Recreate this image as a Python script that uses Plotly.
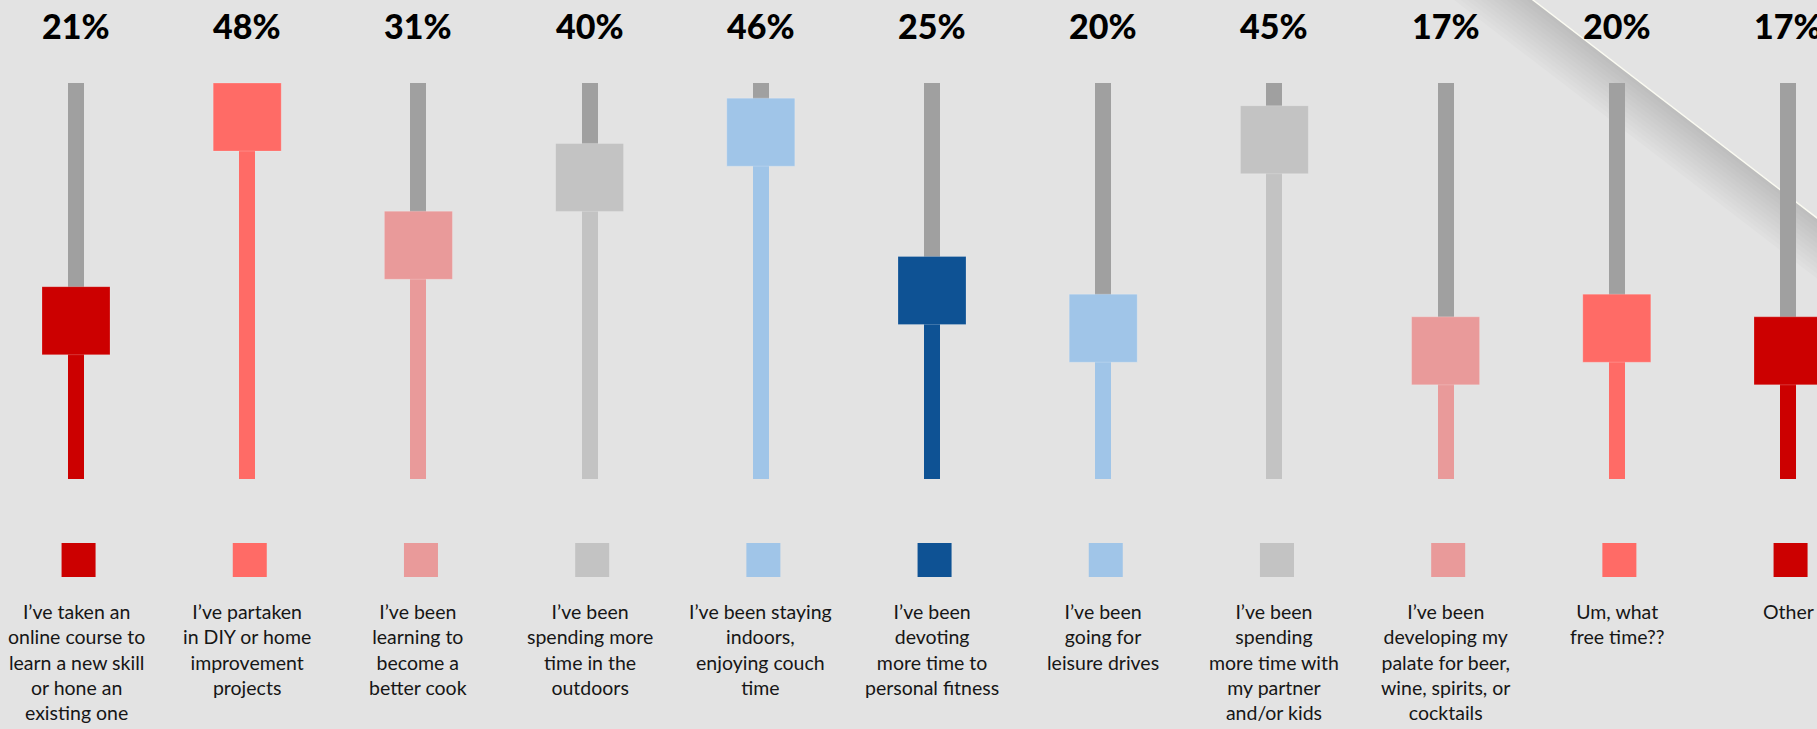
import plotly.graph_objects as go

# Survey answers, one slider per answer
labels = [
    "I’ve taken an<br>online course to<br>learn a new skill<br>or hone an<br>existing one",
    "I’ve partaken<br>in DIY or home<br>improvement<br>projects",
    "I’ve been<br>learning to<br>become a<br>better cook",
    "I’ve been<br>spending more<br>time in the<br>outdoors",
    "I’ve been staying<br>indoors,<br>enjoying couch<br>time",
    "I’ve been<br>devoting<br>more time to<br>personal fitness",
    "I’ve been<br>going for<br>leisure drives",
    "I’ve been<br>spending<br>more time with<br>my partner<br>and/or kids",
    "I’ve been<br>developing my<br>palate for beer,<br>wine, spirits, or<br>cocktails",
    "Um, what<br>free time??",
    "Other",
]
values = [21, 48, 31, 40, 46, 25, 20, 45, 17, 20, 17]
colors = ["#cc0000", "#ff6b66", "#e99a9a", "#c3c3c3", "#a0c5e8", "#0e5294",
          "#a0c5e8", "#c3c3c3", "#e99a9a", "#ff6b66", "#cc0000"]
track_max = 52.5

W, H = 1817, 729
BG = "#e3e3e3"
TRACK = "#a0a0a0"

# pixel geometry of the slider area
x_first, x_step = 76.0, 171.2        # centre of first column, column spacing (px)
y_zero, y_per_unit = 479.0, 7.54     # px of value 0, px per percentage point

x_range = [-x_first / x_step, (W - x_first) / x_step]
y_range = [(y_zero - H) / y_per_unit, y_zero / y_per_unit]

idx = list(range(len(values)))
track_w = 16 / x_step

fig = go.Figure()

# grey slider tracks
fig.add_trace(go.Bar(x=idx, y=[track_max] * len(idx), width=track_w,
                     marker=dict(color=TRACK, line=dict(width=0)),
                     hoverinfo="skip", showlegend=False))
# coloured fill from 0 to value
fig.add_trace(go.Bar(x=idx, y=values, width=track_w,
                     marker=dict(color=colors, line=dict(width=0)),
                     hoverinfo="skip", showlegend=False))
# slider thumbs at each value
fig.add_trace(go.Scatter(x=idx, y=values, mode="markers",
                         marker=dict(symbol="square", size=68, color=colors,
                                     line=dict(width=1, color="rgba(255,255,255,0.2)")),
                         hoverinfo="skip", showlegend=False))
# colour key squares under the sliders
fig.add_trace(go.Scatter(x=[i + 0.015 for i in idx], y=[560] * len(idx), yaxis="y2",
                         mode="markers",
                         marker=dict(symbol="square", size=34, color=colors, line=dict(width=0)),
                         hoverinfo="skip", showlegend=False))

annotations = []
for i, (v, lab) in enumerate(zip(values, labels)):
    annotations.append(dict(x=i, y=1 - 26 / H, xref="x", yref="paper",
                            text=f"{v}%", showarrow=False, xanchor="center", yanchor="middle",
                            font=dict(family="Lato", size=34, color="#000000", weight=900)))
    annotations.append(dict(x=i, y=1 - 598 / H, xref="x", yref="paper",
                            text=lab, showarrow=False, xanchor="center", yanchor="top",
                            align="center",
                            font=dict(family="Lato", size=19.5, color="#161616")))

# folded page corner in the top right: soft shadow plus a bright crease
def px(x, y):
    return x / W, 1 - y / H

p0, p1 = (1533.0, 0.0), (1817.0, 218.0)
dx, dy = p1[0] - p0[0], p1[1] - p0[1]
ln = (dx * dx + dy * dy) ** 0.5
ux, uy = dx / ln, dy / ln
nx, ny = -uy, ux
a = (p0[0] - ux * 150, p0[1] - uy * 150)
b = (p1[0] + ux * 150, p1[1] + uy * 150)
shapes = []
for k in range(1, 13):
    t = 4.0 * k
    pts = [a, b, (b[0] + nx * t, b[1] + ny * t), (a[0] + nx * t, a[1] + ny * t)]
    path = "M " + " L ".join(f"{px(*q)[0]:.5f},{px(*q)[1]:.5f}" for q in pts) + " Z"
    shapes.append(dict(type="path", path=path, xref="paper", yref="paper",
                       fillcolor="rgb(140,142,130)", opacity=0.03,
                       line=dict(width=0), layer="below"))
shapes.append(dict(type="line", xref="paper", yref="paper",
                   x0=px(*a)[0], y0=px(*a)[1], x1=px(*b)[0], y1=px(*b)[1],
                   line=dict(color="#fbfbf2", width=1.4), layer="below"))

fig.update_layout(
    width=W, height=H,
    margin=dict(l=0, r=0, t=0, b=0),
    paper_bgcolor=BG, plot_bgcolor=BG,
    barmode="overlay", bargap=0,
    xaxis=dict(range=x_range, visible=False, fixedrange=True),
    yaxis=dict(range=y_range, visible=False, fixedrange=True),
    yaxis2=dict(range=[H, 0], overlaying="y", visible=False, fixedrange=True),
    annotations=annotations,
    shapes=shapes,
    showlegend=False,
)

fig.write_html("out.html", config={"displayModeBar": False})
